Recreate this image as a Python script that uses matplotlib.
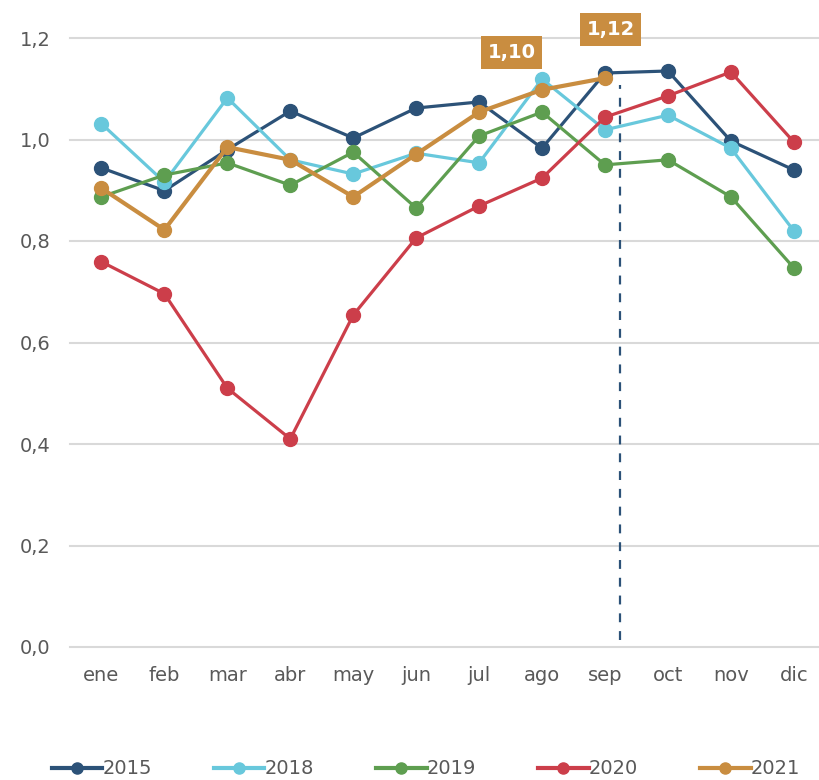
import matplotlib
matplotlib.use("Agg")
import matplotlib.pyplot as plt

months = ["ene", "feb", "mar", "abr", "may", "jun", "jul", "ago", "sep", "oct", "nov", "dic"]
y2015 = [0.944, 0.899, 0.980, 1.056, 1.003, 1.062, 1.074, 0.983, 1.131, 1.135, 0.997, 0.940]
y2018 = [1.031, 0.916, 1.082, 0.960, 0.932, 0.973, 0.954, 1.119, 1.019, 1.048, 0.983, 0.820]
y2019 = [0.887, 0.930, 0.954, 0.910, 0.975, 0.865, 1.007, 1.054, 0.950, 0.960, 0.887, 0.747]
y2020 = [0.759, 0.696, 0.510, 0.410, 0.654, 0.806, 0.869, 0.924, 1.044, 1.086, 1.133, 0.995]
y2021 = [0.904, 0.822, 0.985, 0.960, 0.887, 0.971, 1.054, 1.098, 1.121]
labels_2021 = {7: "1,10", 8: "1,12"}
yticks = [0.0, 0.2, 0.4, 0.6, 0.8, 1.0, 1.2]
ytick_labels = ["0,0", "0,2", "0,4", "0,6", "0,8", "1,0", "1,2"]

series = [("2015", y2015, "#2C5278", 2.3),
          ("2018", y2018, "#68C8DC", 2.3),
          ("2019", y2019, "#5E9E50", 2.3),
          ("2020", y2020, "#CC3E4A", 2.3),
          ("2021", y2021, "#C98D40", 3.0)]

fig = plt.figure(figsize=(8.19, 7.8), dpi=100)
ax = fig.add_axes([70/819, 133/780, 749/819, 609/780])
ax.set_xlim(-0.5, 11.4)
ax.set_ylim(0, 1.2)

for name, vals, col, lw in series:
    ax.plot(range(len(vals)), vals, color=col, lw=lw, marker="o", ms=10,
            label=name, clip_on=False, zorder=3)

ax.vlines(8.24, 0.014, 1.107, colors="#2C5278", linestyles=(0, (4, 4)), lw=1.6, zorder=2)

offsets = {7: (-22, 27), 8: (4, 35)}
for i, txt in labels_2021.items():
    ax.annotate(txt, (i, y2021[i]), xytext=offsets[i], textcoords="offset points",
                ha="center", va="center", color="white", fontsize=14, fontweight="bold",
                bbox=dict(boxstyle="square,pad=0.35", fc="#C98D40", ec="none"),
                annotation_clip=False, zorder=5)

ax.set_yticks(yticks)
ax.set_yticklabels(ytick_labels)
ax.set_xticks(range(12))
ax.set_xticklabels(months)
ax.tick_params(axis="both", length=0, labelsize=14, labelcolor="#595959")
ax.tick_params(axis="x", pad=14)
ax.tick_params(axis="y", pad=14)
ax.yaxis.grid(True, color="#D9D9D9", lw=1.5)
for gl in ax.get_ygridlines():
    gl.set_clip_on(False)
ax.set_axisbelow(True)
for s in ax.spines.values():
    s.set_visible(False)

leg = fig.legend(loc="center", bbox_to_anchor=(0.52, 11/780), ncol=5, frameon=False,
                 fontsize=14, handlelength=2.6, columnspacing=3.2, handletextpad=0.0,
                 markerscale=0.8)
for t in leg.get_texts():
    t.set_color("#595959")
for h in leg.legend_handles:
    h.set_linewidth(3.0)

fig.savefig("out.png", dpi=100)
